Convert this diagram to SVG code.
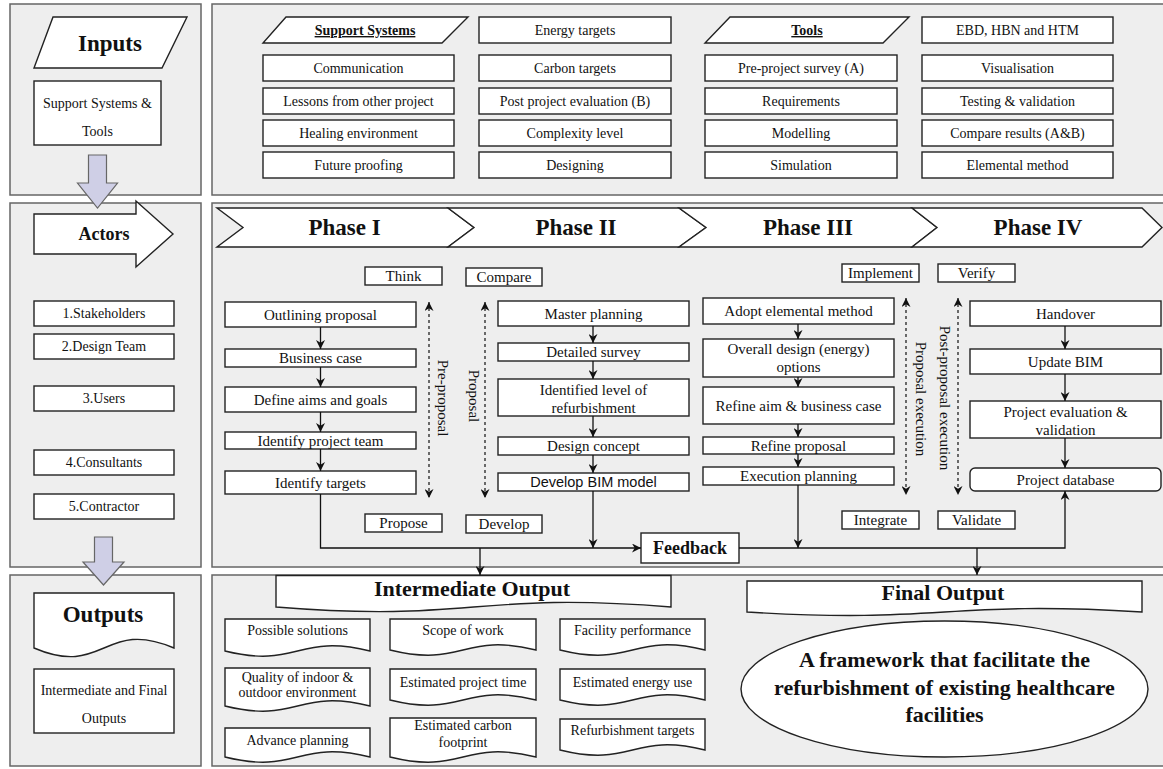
<svg xmlns="http://www.w3.org/2000/svg" width="1163" height="769" viewBox="0 0 1163 769">
<style>
  .panel { fill: #eeeeee; stroke: #666666; stroke-width: 1.5; }
  .box { fill: #ffffff; stroke: #222222; stroke-width: 1.4; }
  .big { fill: #cfcfe6; stroke: #666666; stroke-width: 1.2; }
  .t { font-family: "Liberation Serif", "Times New Roman", serif; font-size: 14px; fill: #111; text-anchor: middle; }
  .m { font-size: 15px; }
  .s { font-family: "Liberation Sans", Arial, sans-serif; font-size: 14.5px; }
  .b { font-weight: bold; }
  .h1 { font-size: 23px; font-weight: bold; }
  .h2 { font-size: 22px; font-weight: bold; }
  .u { text-decoration: underline; font-weight: bold; }
  .conn { fill: none; stroke: #111; stroke-width: 1.3; marker-end: url(#ah); }
  .dash { fill: none; stroke: #111; stroke-width: 1.2; stroke-dasharray: 3 3; marker-start: url(#ah); marker-end: url(#ah); }
</style>
<defs>
  <marker id="ah" viewBox="0 0 10 10" refX="10" refY="5" markerWidth="9" markerHeight="9" markerUnits="userSpaceOnUse" orient="auto-start-reverse">
    <path d="M0,0 L10,5 L0,10 L3,5 z" fill="#111"/>
  </marker>
</defs>
<rect x="0" y="0" width="1163" height="769" fill="#ffffff"/>

<!-- background panels -->
<g id="panels">
  <rect class="panel" x="10" y="4" width="191" height="191"/>
  <rect class="panel" x="212" y="4" width="970" height="191"/>
  <rect class="panel" x="10" y="203" width="191" height="364"/>
  <rect class="panel" x="212" y="203" width="970" height="364"/>
  <rect class="panel" x="10" y="575" width="191" height="191"/>
  <rect class="panel" x="212" y="575" width="970" height="191"/>
</g>

<!-- left column: inputs / actors / outputs -->
<g id="inputs">
  <polygon class="box" points="53,17 187,17 162,68 34,68"/>
  <text class="t h1" x="110" y="51">Inputs</text>
</g>
<g id="support-tools">
  <rect class="box" x="34" y="81" width="127" height="64"/>
  <text class="t" x="97.5" y="108">Support Systems &amp;</text>
  <text class="t" x="97.5" y="136">Tools</text>
</g>
<g id="arrow-down-1">
  <polygon class="big" points="88.5,155 106.5,155 106.5,183 117.5,183 97.5,208 77.5,183 88.5,183"/>
</g>
<g id="actors">
  <polygon class="box" points="34,214 136,214 136,201 173,234 136,267 136,254 34,254"/>
  <text class="t b" style="font-size:18px" x="104" y="240">Actors</text>
</g>
<g id="actor-1"><rect class="box" x="34" y="301" width="140" height="25"/><text class="t" x="104" y="318">1.Stakeholders</text></g>
<g id="actor-2"><rect class="box" x="34" y="334" width="140" height="25"/><text class="t" x="104" y="351">2.Design Team</text></g>
<g id="actor-3"><rect class="box" x="34" y="386" width="140" height="25"/><text class="t" x="104" y="403">3.Users</text></g>
<g id="actor-4"><rect class="box" x="34" y="450" width="140" height="25"/><text class="t" x="104" y="467">4.Consultants</text></g>
<g id="actor-5"><rect class="box" x="34" y="494" width="140" height="25"/><text class="t" x="104" y="511">5.Contractor</text></g>
<g id="arrow-down-2">
  <polygon class="big" points="94.5,537 112.5,537 112.5,562 124,562 103.5,585 83,562 94.5,562"/>
</g>
<g id="outputs">
  <path class="box" d="M34,593 H174 V648 C104,618 104,678 34,648 Z"/>
  <text class="t h1" x="103" y="622">Outputs</text>
</g>
<g id="outputs-desc">
  <rect class="box" x="34" y="669" width="140" height="64"/>
  <text class="t" x="104" y="695">Intermediate and Final</text>
  <text class="t" x="104" y="723">Outputs</text>
</g>

<!-- support systems and tools grid -->
<g id="hdr-support"><polygon class="box" points="286,17 468,17 442,43 263,43"/><text class="t u" x="365" y="35">Support Systems</text></g>
<g id="energy-targets"><rect class="box" x="479" y="17" width="192" height="26"/><text class="t" x="575" y="35">Energy targets</text></g>
<g id="hdr-tools"><polygon class="box" points="730,17 909,17 883,43 705,43"/><text class="t u" x="807" y="35">Tools</text></g>
<g id="ebd"><rect class="box" x="922" y="17" width="191" height="26"/><text class="t" x="1017.5" y="35">EBD, HBN and HTM</text></g>

<g id="communication"><rect class="box" x="263" y="55" width="191" height="26"/><text class="t" x="358.5" y="73">Communication</text></g>
<g id="lessons"><rect class="box" x="263" y="88" width="191" height="26"/><text class="t" x="358.5" y="106">Lessons from other project</text></g>
<g id="healing"><rect class="box" x="263" y="120" width="191" height="26"/><text class="t" x="358.5" y="138">Healing environment</text></g>
<g id="future"><rect class="box" x="263" y="152" width="191" height="26"/><text class="t" x="358.5" y="170">Future proofing</text></g>

<g id="carbon-targets"><rect class="box" x="479" y="55" width="192" height="26"/><text class="t" x="575" y="73">Carbon targets</text></g>
<g id="post-eval"><rect class="box" x="479" y="88" width="192" height="26"/><text class="t" x="575" y="106">Post project evaluation (B)</text></g>
<g id="complexity"><rect class="box" x="479" y="120" width="192" height="26"/><text class="t" x="575" y="138">Complexity level</text></g>
<g id="designing"><rect class="box" x="479" y="152" width="192" height="26"/><text class="t" x="575" y="170">Designing</text></g>

<g id="pre-survey"><rect class="box" x="705" y="55" width="192" height="26"/><text class="t" x="801" y="73">Pre-project survey (A)</text></g>
<g id="requirements"><rect class="box" x="705" y="88" width="192" height="26"/><text class="t" x="801" y="106">Requirements</text></g>
<g id="modelling"><rect class="box" x="705" y="120" width="192" height="26"/><text class="t" x="801" y="138">Modelling</text></g>
<g id="simulation"><rect class="box" x="705" y="152" width="192" height="26"/><text class="t" x="801" y="170">Simulation</text></g>

<g id="visualisation"><rect class="box" x="922" y="55" width="191" height="26"/><text class="t" x="1017.5" y="73">Visualisation</text></g>
<g id="testing"><rect class="box" x="922" y="88" width="191" height="26"/><text class="t" x="1017.5" y="106">Testing &amp; validation</text></g>
<g id="compare-results"><rect class="box" x="922" y="120" width="191" height="26"/><text class="t" x="1017.5" y="138">Compare results (A&amp;B)</text></g>
<g id="elemental"><rect class="box" x="922" y="152" width="191" height="26"/><text class="t" x="1017.5" y="170">Elemental method</text></g>

<!-- phase banner -->
<g id="phase-1"><polygon class="box" points="217,208 448,208 474,227.5 448,247 217,247 243,227.5"/><text class="t h1" x="344.5" y="235">Phase I</text></g>
<g id="phase-2"><polygon class="box" points="448,208 679,208 706,227.5 679,247 448,247 474,227.5"/><text class="t h1" x="576" y="235">Phase II</text></g>
<g id="phase-3"><polygon class="box" points="679,208 912,208 937,227.5 912,247 679,247 706,227.5"/><text class="t h1" x="808" y="235">Phase III</text></g>
<g id="phase-4"><polygon class="box" points="912,208 1142,208 1162,227.5 1142,247 912,247 937,227.5"/><text class="t h1" x="1038" y="235">Phase IV</text></g>

<!-- stage tags -->
<g id="tag-think"><rect class="box" x="365" y="267" width="77" height="18"/><text class="t m" x="403.5" y="281">Think</text></g>
<g id="tag-compare"><rect class="box" x="466" y="268" width="76" height="18"/><text class="t m" x="504" y="282">Compare</text></g>
<g id="tag-implement"><rect class="box" x="842" y="264" width="77" height="18"/><text class="t m" x="880.5" y="278">Implement</text></g>
<g id="tag-verify"><rect class="box" x="938" y="264" width="77" height="18"/><text class="t m" x="976.5" y="278">Verify</text></g>
<g id="tag-propose"><rect class="box" x="365" y="514" width="77" height="18"/><text class="t m" x="403.5" y="528">Propose</text></g>
<g id="tag-develop"><rect class="box" x="466" y="515" width="76" height="18"/><text class="t m" x="504" y="529">Develop</text></g>
<g id="tag-integrate"><rect class="box" x="842" y="511" width="77" height="18"/><text class="t m" x="880.5" y="525">Integrate</text></g>
<g id="tag-validate"><rect class="box" x="938" y="511" width="77" height="18"/><text class="t m" x="976.5" y="525">Validate</text></g>

<!-- phase I steps -->
<g id="p1-outline"><rect class="box" x="225" y="302" width="191" height="25"/><text class="t m" x="320.5" y="319.5">Outlining proposal</text></g>
<g id="p1-business"><rect class="box" x="225" y="349" width="191" height="18"/><text class="t m" x="320.5" y="363">Business case</text></g>
<g id="p1-aims"><rect class="box" x="225" y="387" width="191" height="25"/><text class="t m" x="320.5" y="404.5">Define aims and goals</text></g>
<g id="p1-team"><rect class="box" x="225" y="432" width="191" height="17"/><text class="t m" x="320.5" y="445.5">Identify project team</text></g>
<g id="p1-targets"><rect class="box" x="225" y="471" width="191" height="23"/><text class="t m" x="320.5" y="487.5">Identify targets</text></g>

<!-- phase II steps -->
<g id="p2-master"><rect class="box" x="498" y="301" width="191" height="25"/><text class="t m" x="593.5" y="318.5">Master planning</text></g>
<g id="p2-survey"><rect class="box" x="498" y="343" width="191" height="18"/><text class="t m" x="593.5" y="357">Detailed survey</text></g>
<g id="p2-level"><rect class="box" x="498" y="379" width="191" height="37"/><text class="t m" x="593.5" y="395">Identified level of</text><text class="t m" x="593.5" y="413">refurbishment</text></g>
<g id="p2-concept"><rect class="box" x="498" y="437" width="191" height="18"/><text class="t m" x="593.5" y="451">Design concept</text></g>
<g id="p2-bim"><rect class="box" x="498" y="473" width="191" height="18"/><text class="t s" x="593.5" y="487">Develop BIM model</text></g>

<!-- phase III steps -->
<g id="p3-adopt"><rect class="box" x="703" y="298" width="191" height="26"/><text class="t m" x="798.5" y="316">Adopt elemental method</text></g>
<g id="p3-overall"><rect class="box" x="703" y="339" width="191" height="38"/><text class="t m" x="798.5" y="354">Overall design (energy)</text><text class="t m" x="798.5" y="372">options</text></g>
<g id="p3-refine-aim"><rect class="box" x="703" y="387" width="191" height="37"/><text class="t m" x="798.5" y="410.5">Refine aim &amp; business case</text></g>
<g id="p3-refine-proposal"><rect class="box" x="703" y="437" width="191" height="17"/><text class="t m" x="798.5" y="450.5">Refine proposal</text></g>
<g id="p3-execution"><rect class="box" x="703" y="467" width="191" height="18"/><text class="t m" x="798.5" y="481">Execution planning</text></g>

<!-- phase IV steps -->
<g id="p4-handover"><rect class="box" x="970" y="301" width="191" height="25"/><text class="t m" x="1065.5" y="318.5">Handover</text></g>
<g id="p4-bim"><rect class="box" x="970" y="349" width="191" height="25"/><text class="t m" x="1065.5" y="366.5">Update BIM</text></g>
<g id="p4-eval"><rect class="box" x="970" y="401" width="191" height="37"/><text class="t m" x="1065.5" y="417">Project evaluation &amp;</text><text class="t m" x="1065.5" y="435">validation</text></g>
<g id="p4-database"><rect class="box" x="970" y="468" width="191" height="23" rx="5"/><text class="t m" x="1065.5" y="484.5">Project database</text></g>

<!-- stage span labels -->
<g id="span-labels">
  <text class="t m" transform="translate(438,398) rotate(90)">Pre-proposal</text>
  <text class="t m" transform="translate(469,396) rotate(90)">Proposal</text>
  <text class="t m" transform="translate(916,399) rotate(90)">Proposal execution</text>
  <text class="t m" transform="translate(940,398) rotate(90)">Post-proposal execution</text>
</g>

<g id="feedback">
  <rect class="box" x="641" y="533" width="98" height="30"/>
  <text class="t b" style="font-size:18px" x="690" y="554">Feedback</text>
</g>

<!-- output documents -->
<g id="intermediate-output">
  <path class="box" d="M276,575.5 H671 V607 C473.5,591 473.5,623 276,607 Z"/>
  <text class="t h2" x="472" y="596">Intermediate Output</text>
</g>
<g id="final-output">
  <path class="box" d="M747,581 H1142 V612 C944.5,600 944.5,624 747,612 Z"/>
  <text class="t h2" x="943" y="600">Final Output</text>
</g>
<g id="framework">
  <ellipse class="box" cx="944.5" cy="689" rx="203.5" ry="68"/>
  <text class="t h2" x="944.5" y="667">A framework that facilitate the</text>
  <text class="t h2" x="944.5" y="695">refurbishment of existing healthcare</text>
  <text class="t h2" x="944.5" y="722">facilities</text>
</g>

<g id="out-solutions"><path class="box" d="M225,619 H370 V651 C297.5,633 297.5,669 225,651 Z"/><text class="t" x="297.5" y="635">Possible solutions</text></g>
<g id="out-scope"><path class="box" d="M390,619 H536 V650 C463,632 463,668 390,650 Z"/><text class="t" x="463" y="635">Scope of work</text></g>
<g id="out-facility"><path class="box" d="M560,619 H705 V650 C632.5,632 632.5,668 560,650 Z"/><text class="t" x="632.5" y="635">Facility performance</text></g>
<g id="out-quality"><path class="box" d="M225,668 H370 V706 C297.5,688 297.5,724 225,706 Z"/><text class="t" x="297.5" y="682">Quality of indoor &amp;</text><text class="t" x="297.5" y="697">outdoor environment</text></g>
<g id="out-time"><path class="box" d="M390,669 H536 V700 C463,682 463,718 390,700 Z"/><text class="t" x="463" y="687">Estimated project time</text></g>
<g id="out-energy"><path class="box" d="M560,669 H705 V700 C632.5,682 632.5,718 560,700 Z"/><text class="t" x="632.5" y="687">Estimated energy use</text></g>
<g id="out-planning"><path class="box" d="M225,728 H370 V757 C297.5,739 297.5,775 225,757 Z"/><text class="t" x="297.5" y="745">Advance planning</text></g>
<g id="out-carbon"><path class="box" d="M390,718 H536 V757 C463,739 463,775 390,757 Z"/><text class="t" x="463" y="730">Estimated carbon</text><text class="t" x="463" y="747">footprint</text></g>
<g id="out-refurb"><path class="box" d="M560,719 H705 V750 C632.5,732 632.5,768 560,750 Z"/><text class="t" x="632.5" y="735">Refurbishment targets</text></g>

<!-- connectors -->
<g id="connectors">
  <path class="conn" d="M320.5,327 V349"/>
  <path class="conn" d="M320.5,367 V387"/>
  <path class="conn" d="M320.5,412 V432"/>
  <path class="conn" d="M320.5,449 V471"/>

  <path class="conn" d="M593,326 V343"/>
  <path class="conn" d="M593,361 V379"/>
  <path class="conn" d="M593,416 V437"/>
  <path class="conn" d="M593,455 V473"/>

  <path class="conn" d="M798,324 V339"/>
  <path class="conn" d="M798,377 V387"/>
  <path class="conn" d="M798,424 V437"/>
  <path class="conn" d="M798,454 V467"/>

  <path class="conn" d="M1065,326 V349"/>
  <path class="conn" d="M1065,374 V401"/>
  <path class="conn" d="M1065,438 V468"/>

  <path class="dash" d="M429,302 V498"/>
  <path class="dash" d="M485,302 V498"/>
  <path class="dash" d="M906,298 V495"/>
  <path class="dash" d="M958,298 V495"/>

  <path class="conn" d="M320.5,494 V548 H641"/>
  <path class="conn" d="M593,491 V548"/>
  <path class="conn" d="M798,485 V548"/>
  <path class="conn" d="M739,548 H1065 V491"/>
  <path class="conn" d="M480,548 V575"/>
  <path class="conn" d="M977,548 V575"/>
</g>
</svg>
